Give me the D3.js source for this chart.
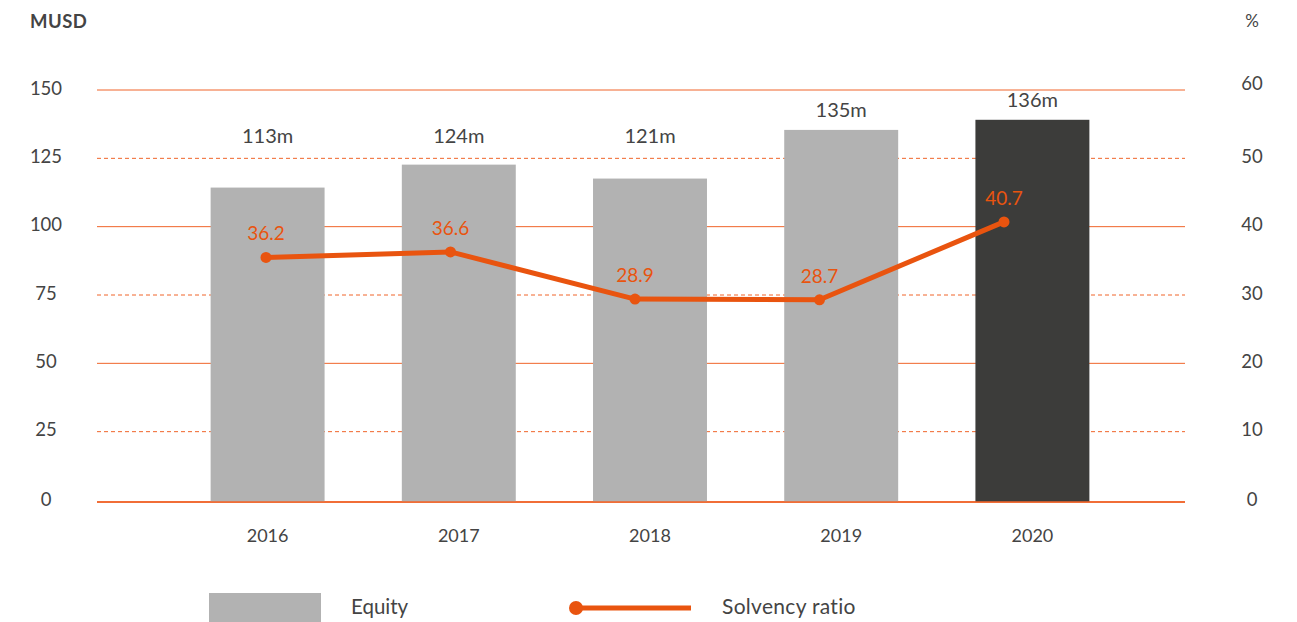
<!DOCTYPE html>
<html>
<head>
<meta charset="utf-8">
<script src="https://cdn.jsdelivr.net/npm/d3@7"></script>
<style>
  body { margin: 0; background: #fff; }
  svg { font-family: Lato, "Open Sans", sans-serif; }
</style>
</head>
<body>
<div class="svg-container"></div>
<script>
// chart data
const years = ['2016', '2017', '2018', '2019', '2020'];
const equity = [114.3, 122.7, 117.6, 135.4, 139.1];
const equityLabels = ['113m', '124m', '121m', '135m', '136m'];
const solvency = [35.5, 36.3, 29.4, 29.3, 40.7];
const solvencyLabels = ['36.2', '36.6', '28.9', '28.7', '40.7'];
const leftTicks = [0, 25, 50, 75, 100, 125, 150];
const rightTicks = [0, 10, 20, 30, 40, 50, 60];

// dimensions
const width = 1297;
const height = 622;
const gridLeft = 97;
const gridRight = 1185;
const orange = '#e9540f';
const gridColour = '#f0642a';
const textColour = '#444';

const svg = d3.select('.svg-container')
  .append('svg')
  .attr('width', width)
  .attr('height', height);

// scales
const x = d3.scaleBand()
  .domain(years)
  .range([172, 1128])
  .paddingInner(0.404)
  .paddingOuter(0.202);

const xLine = d3.scalePoint()
  .domain(years)
  .range([266, 1004]);

const yLeft = d3.scaleLinear()
  .domain([0, 150])
  .range([500, 90]);

const yRight = d3.scaleLinear()
  .domain([0, 60])
  .range([500, 90]);

// gridlines
svg.append('g')
  .selectAll('line')
  .data(leftTicks)
  .enter()
  .append('line')
  .attr('x1', gridLeft)
  .attr('x2', gridRight)
  .attr('y1', d => d === 0 ? 502 : yLeft(d))
  .attr('y2', d => d === 0 ? 502 : yLeft(d))
  .attr('stroke', gridColour)
  .attr('stroke-width', d => d === 0 ? 1.5 : 1)
  .attr('stroke-dasharray', d => d % 50 === 0 ? null : '4,3');

// bars
svg.append('g')
  .selectAll('rect')
  .data(years)
  .enter()
  .append('rect')
  .attr('x', d => x(d))
  .attr('y', (d, i) => yLeft(equity[i]))
  .attr('width', x.bandwidth())
  .attr('height', (d, i) => 502 - yLeft(equity[i]))
  .attr('fill', (d, i) => i === years.length - 1 ? '#3c3c3a' : '#b2b2b2');

// redraw baseline over bars
svg.append('line')
  .attr('x1', gridLeft)
  .attr('x2', gridRight)
  .attr('y1', 502)
  .attr('y2', 502)
  .attr('stroke', gridColour)
  .attr('stroke-width', 1.5);

// bar value labels
svg.append('g')
  .selectAll('text')
  .data(years)
  .enter()
  .append('text')
  .attr('x', d => x(d) + x.bandwidth() / 2)
  .attr('y', (d, i) => Math.min(yLeft(equity[i]) - 18, 138))
  .attr('text-anchor', 'middle')
  .attr('dominant-baseline', 'middle')
  .attr('font-size', 20)
  .attr('fill', textColour)
  .text((d, i) => equityLabels[i]);

// solvency line
const line = d3.line()
  .x((d, i) => xLine(years[i]))
  .y(d => yRight(d));

svg.append('path')
  .datum(solvency)
  .attr('d', line)
  .attr('fill', 'none')
  .attr('stroke', orange)
  .attr('stroke-width', 5)
  .attr('stroke-linejoin', 'round');

svg.append('g')
  .selectAll('circle')
  .data(solvency)
  .enter()
  .append('circle')
  .attr('cx', (d, i) => xLine(years[i]))
  .attr('cy', d => yRight(d))
  .attr('r', 5.5)
  .attr('fill', orange);

svg.append('g')
  .selectAll('text')
  .data(solvency)
  .enter()
  .append('text')
  .attr('x', (d, i) => xLine(years[i]))
  .attr('y', d => yRight(d) - 22)
  .attr('text-anchor', 'middle')
  .attr('dominant-baseline', 'middle')
  .attr('font-size', 19)
  .attr('fill', orange)
  .text((d, i) => solvencyLabels[i]);

// left axis labels
svg.append('g')
  .selectAll('text')
  .data(leftTicks)
  .enter()
  .append('text')
  .attr('x', 46)
  .attr('y', d => d === 0 ? 501 : yLeft(d))
  .attr('text-anchor', 'middle')
  .attr('dominant-baseline', 'middle')
  .attr('font-size', 18.5)
  .attr('fill', textColour)
  .text(d => d);

// right axis labels
svg.append('g')
  .selectAll('text')
  .data(rightTicks)
  .enter()
  .append('text')
  .attr('x', 1252)
  .attr('y', d => d === 60 ? 85 : (d === 0 ? 501 : yRight(d)))
  .attr('text-anchor', 'middle')
  .attr('dominant-baseline', 'middle')
  .attr('font-size', 18.5)
  .attr('fill', textColour)
  .text(d => d);

// year labels
svg.append('g')
  .selectAll('text')
  .data(years)
  .enter()
  .append('text')
  .attr('x', d => x(d) + x.bandwidth() / 2)
  .attr('y', 537)
  .attr('text-anchor', 'middle')
  .attr('dominant-baseline', 'middle')
  .attr('font-size', 18)
  .attr('fill', textColour)
  .text(d => d);

// axis titles
svg.append('text')
  .attr('x', 30)
  .attr('y', 23)
  .attr('dominant-baseline', 'middle')
  .attr('font-size', 18.5)
  .attr('font-weight', 'bold')
  .attr('letter-spacing', 0.5)
  .attr('fill', textColour)
  .text('MUSD');

svg.append('text')
  .attr('x', 1252)
  .attr('y', 23)
  .attr('text-anchor', 'middle')
  .attr('dominant-baseline', 'middle')
  .attr('font-size', 17)
  .attr('fill', textColour)
  .text('%');

// legend
const legend = svg.append('g').attr('id', 'legend');

legend.append('rect')
  .attr('x', 209)
  .attr('y', 593)
  .attr('width', 112)
  .attr('height', 32)
  .attr('fill', '#b2b2b2');

legend.append('text')
  .attr('x', 351)
  .attr('y', 609)
  .attr('dominant-baseline', 'middle')
  .attr('font-size', 20.5)
  .attr('fill', textColour)
  .text('Equity');

legend.append('line')
  .attr('x1', 576)
  .attr('x2', 691)
  .attr('y1', 608)
  .attr('y2', 608)
  .attr('stroke', orange)
  .attr('stroke-width', 5);

legend.append('circle')
  .attr('cx', 576)
  .attr('cy', 608)
  .attr('r', 7)
  .attr('fill', orange);

legend.append('text')
  .attr('x', 722)
  .attr('y', 609)
  .attr('dominant-baseline', 'middle')
  .attr('font-size', 21)
  .attr('letter-spacing', 0.3)
  .attr('fill', textColour)
  .text('Solvency ratio');
</script>
</body>
</html>
